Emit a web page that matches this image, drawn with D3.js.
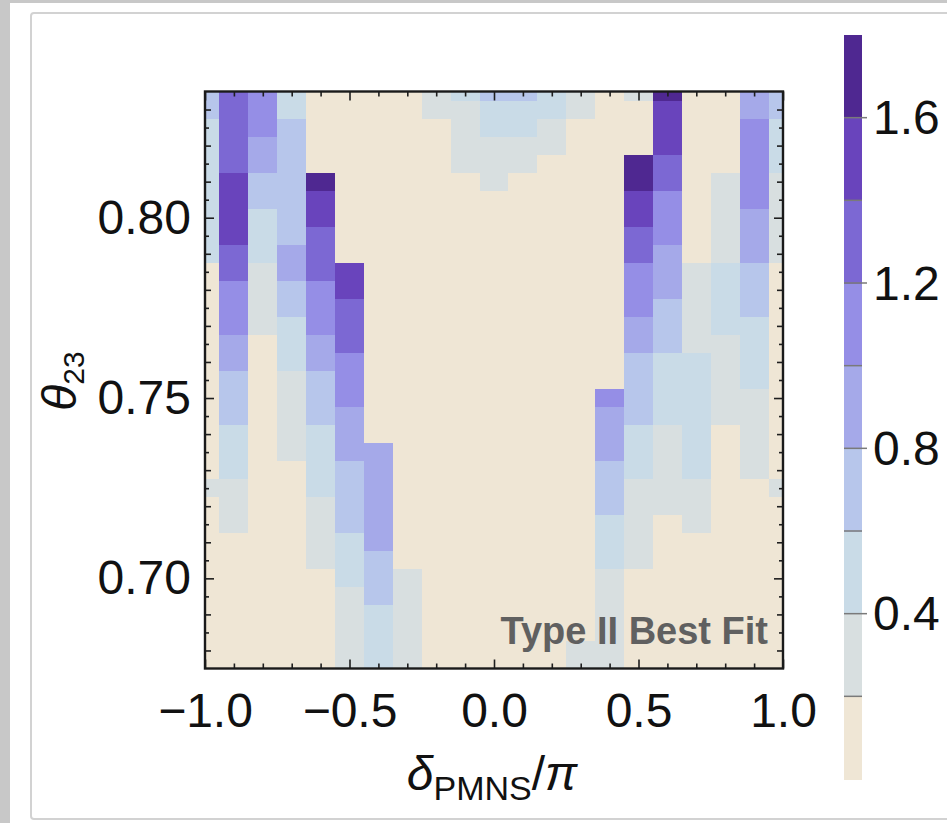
<!DOCTYPE html>
<html>
<head>
<meta charset="utf-8">
<script src="https://cdn.jsdelivr.net/npm/d3@7"></script>
<style>
  html, body { margin: 0; padding: 0; background: #ffffff; }
  svg { display: block; }
  text { font-family: "Liberation Sans", Arial, Helvetica, sans-serif; }
</style>
</head>
<body>
<svg id="chart" width="947" height="823"></svg>
<script>
// Grid centres of the scan: delta_PMNS / pi (columns) and theta_23 (rows, top to bottom)
const deltaCenters = [-1.0, -0.9, -0.8, -0.7, -0.6, -0.5, -0.4, -0.3, -0.2, -0.1, 0.0,
                      0.1, 0.2, 0.3, 0.4, 0.5, 0.6, 0.7, 0.8, 0.9, 1.0];
const thetaCenters = [0.835, 0.830, 0.825, 0.820, 0.815, 0.810, 0.805, 0.800, 0.795, 0.790,
                      0.785, 0.780, 0.775, 0.770, 0.765, 0.760, 0.755, 0.750, 0.745, 0.740,
                      0.735, 0.730, 0.725, 0.720, 0.715, 0.710, 0.705, 0.700, 0.695, 0.690,
                      0.685, 0.680, 0.675];

// Fit measure per cell; one row per theta_23 value, one entry per delta value
const fitValues = [
  [0.7,1.3,1.1,0.5,0.1,0.1,0.1,0.1,0.3,0.5,0.7,0.7,0.5,0.3,0.1,0.3,1.7,0.1,0.1,0.9,0.7],
  [0.7,1.3,1.1,0.5,0.1,0.1,0.1,0.1,0.3,0.3,0.5,0.5,0.5,0.3,0.1,0.1,1.5,0.1,0.1,0.9,0.7],
  [0.5,1.3,1.1,0.7,0.1,0.1,0.1,0.1,0.1,0.3,0.5,0.5,0.3,0.1,0.1,0.1,1.5,0.1,0.1,1.1,0.5],
  [0.5,1.3,0.9,0.7,0.1,0.1,0.1,0.1,0.1,0.3,0.3,0.3,0.3,0.1,0.1,0.1,1.5,0.1,0.1,1.1,0.5],
  [0.5,1.3,0.9,0.7,0.1,0.1,0.1,0.1,0.1,0.3,0.3,0.3,0.1,0.1,0.1,1.7,1.3,0.1,0.1,1.1,0.5],
  [0.5,1.5,0.7,0.7,1.7,0.1,0.1,0.1,0.1,0.1,0.3,0.1,0.1,0.1,0.1,1.7,1.3,0.1,0.3,1.1,0.3],
  [0.5,1.5,0.7,0.7,1.5,0.1,0.1,0.1,0.1,0.1,0.1,0.1,0.1,0.1,0.1,1.5,1.1,0.1,0.3,1.1,0.3],
  [0.5,1.5,0.5,0.7,1.5,0.1,0.1,0.1,0.1,0.1,0.1,0.1,0.1,0.1,0.1,1.5,1.1,0.1,0.3,0.9,0.3],
  [0.5,1.5,0.5,0.7,1.3,0.1,0.1,0.1,0.1,0.1,0.1,0.1,0.1,0.1,0.1,1.3,1.1,0.1,0.3,0.9,0.3],
  [0.5,1.3,0.5,0.9,1.3,0.1,0.1,0.1,0.1,0.1,0.1,0.1,0.1,0.1,0.1,1.3,0.9,0.1,0.3,0.9,0.3],
  [0.1,1.3,0.3,0.9,1.3,1.5,0.1,0.1,0.1,0.1,0.1,0.1,0.1,0.1,0.1,1.1,0.9,0.3,0.5,0.7,0.1],
  [0.1,1.1,0.3,0.7,1.1,1.5,0.1,0.1,0.1,0.1,0.1,0.1,0.1,0.1,0.1,1.1,0.9,0.3,0.5,0.7,0.1],
  [0.1,1.1,0.3,0.7,1.1,1.3,0.1,0.1,0.1,0.1,0.1,0.1,0.1,0.1,0.1,1.1,0.7,0.3,0.5,0.7,0.1],
  [0.1,1.1,0.3,0.5,1.1,1.3,0.1,0.1,0.1,0.1,0.1,0.1,0.1,0.1,0.1,0.9,0.7,0.3,0.5,0.5,0.1],
  [0.1,0.9,0.1,0.5,0.9,1.3,0.1,0.1,0.1,0.1,0.1,0.1,0.1,0.1,0.1,0.9,0.7,0.3,0.3,0.5,0.1],
  [0.1,0.9,0.1,0.5,0.9,1.1,0.1,0.1,0.1,0.1,0.1,0.1,0.1,0.1,0.1,0.7,0.5,0.5,0.3,0.5,0.1],
  [0.1,0.7,0.1,0.3,0.7,1.1,0.1,0.1,0.1,0.1,0.1,0.1,0.1,0.1,0.1,0.7,0.5,0.5,0.3,0.5,0.1],
  [0.1,0.7,0.1,0.3,0.7,1.1,0.1,0.1,0.1,0.1,0.1,0.1,0.1,0.1,1.1,0.7,0.5,0.5,0.3,0.3,0.1],
  [0.1,0.7,0.1,0.3,0.7,0.9,0.1,0.1,0.1,0.1,0.1,0.1,0.1,0.1,0.9,0.7,0.5,0.5,0.3,0.3,0.1],
  [0.1,0.5,0.1,0.3,0.5,0.9,0.1,0.1,0.1,0.1,0.1,0.1,0.1,0.1,0.9,0.5,0.3,0.5,0.1,0.3,0.1],
  [0.1,0.5,0.1,0.3,0.5,0.9,0.9,0.1,0.1,0.1,0.1,0.1,0.1,0.1,0.9,0.5,0.3,0.5,0.1,0.3,0.1],
  [0.1,0.5,0.1,0.1,0.5,0.7,0.9,0.1,0.1,0.1,0.1,0.1,0.1,0.1,0.7,0.5,0.3,0.5,0.1,0.3,0.1],
  [0.3,0.3,0.1,0.1,0.5,0.7,0.9,0.1,0.1,0.1,0.1,0.1,0.1,0.1,0.7,0.3,0.3,0.3,0.1,0.1,0.3],
  [0.1,0.3,0.1,0.1,0.3,0.7,0.9,0.1,0.1,0.1,0.1,0.1,0.1,0.1,0.7,0.3,0.3,0.3,0.1,0.1,0.1],
  [0.1,0.3,0.1,0.1,0.3,0.7,0.9,0.1,0.1,0.1,0.1,0.1,0.1,0.1,0.5,0.3,0.1,0.3,0.1,0.1,0.1],
  [0.1,0.1,0.1,0.1,0.3,0.5,0.9,0.1,0.1,0.1,0.1,0.1,0.1,0.1,0.5,0.3,0.1,0.1,0.1,0.1,0.1],
  [0.1,0.1,0.1,0.1,0.3,0.5,0.7,0.1,0.1,0.1,0.1,0.1,0.1,0.1,0.5,0.3,0.1,0.1,0.1,0.1,0.1],
  [0.1,0.1,0.1,0.1,0.1,0.5,0.7,0.3,0.1,0.1,0.1,0.1,0.1,0.1,0.3,0.1,0.1,0.1,0.1,0.1,0.1],
  [0.1,0.1,0.1,0.1,0.1,0.3,0.7,0.3,0.1,0.1,0.1,0.1,0.1,0.1,0.3,0.1,0.1,0.1,0.1,0.1,0.1],
  [0.1,0.1,0.1,0.1,0.1,0.3,0.5,0.3,0.1,0.1,0.1,0.1,0.1,0.1,0.3,0.1,0.1,0.1,0.1,0.1,0.1],
  [0.1,0.1,0.1,0.1,0.1,0.3,0.5,0.3,0.1,0.1,0.1,0.1,0.1,0.1,0.3,0.1,0.1,0.1,0.1,0.1,0.1],
  [0.1,0.1,0.1,0.1,0.1,0.3,0.5,0.3,0.1,0.1,0.1,0.1,0.1,0.3,0.3,0.1,0.1,0.1,0.1,0.1,0.1],
  [0.1,0.1,0.1,0.1,0.1,0.3,0.5,0.3,0.1,0.1,0.1,0.1,0.1,0.3,0.3,0.1,0.1,0.1,0.1,0.1,0.1]
];

// Colour levels (band edges) and their colours
const levelBreaks = [0.2, 0.4, 0.6, 0.8, 1.0, 1.2, 1.4, 1.6];
const levelColors = ["#efe6d5", "#d8dfe0", "#c9dbe7", "#b7c6eb", "#a5a9e9",
                     "#958ee6", "#7c68d3", "#6944bc", "#4f2891"];
const barDomain = [0, 1.8];

// Axis ticks
const deltaMajorTicks = [-1.0, -0.5, 0.0, 0.5, 1.0];
const deltaMinorTicks = [-0.9, -0.8, -0.7, -0.6, -0.4, -0.3, -0.2, -0.1,
                         0.1, 0.2, 0.3, 0.4, 0.6, 0.7, 0.8, 0.9];
const thetaMajorTicks = [0.70, 0.75, 0.80];
const thetaMidTicks = [0.68, 0.69, 0.71, 0.72, 0.73, 0.74, 0.76, 0.77, 0.78, 0.79, 0.81, 0.82, 0.83];
const thetaSmallTicks = [0.685, 0.695, 0.705, 0.715, 0.725, 0.735, 0.745, 0.755, 0.765,
                         0.775, 0.785, 0.795, 0.805, 0.815, 0.825];
const barLabelTicks = [0.4, 0.8, 1.2, 1.6];
const barLineTicks = [0.2, 0.4, 0.6, 0.8, 1.0, 1.2, 1.4, 1.6];

const svg = d3.select("#chart");
const W = 947, H = 823;

// Page backdrop and panel frame
svg.append("rect").attr("x", 0).attr("y", 0).attr("width", W).attr("height", H).attr("fill", "#c8c8c8");
svg.append("rect").attr("x", 10).attr("y", 3).attr("width", W - 10).attr("height", H - 3).attr("fill", "#ffffff");
svg.append("rect").attr("x", 31).attr("y", 13).attr("width", W + 20).attr("height", 806)
  .attr("fill", "none").attr("stroke", "#d2d2d2").attr("stroke-width", 2).attr("rx", 3);

const plot = { left: 205, right: 783, top: 91.5, bottom: 668.5 };

const x = d3.scaleLinear().domain([-1, 1]).range([plot.left, plot.right]);
const y = d3.scaleLinear().domain([0.675, 0.835]).range([plot.bottom, plot.top]);
const color = d3.scaleThreshold().domain(levelBreaks).range(levelColors);

const halfDx = 0.05, halfDy = 0.0025;

const cells = [];
thetaCenters.forEach((t, j) => {
  deltaCenters.forEach((d, i) => {
    cells.push({ d, t, v: fitValues[j][i] });
  });
});

svg.append("g")
  .attr("shape-rendering", "crispEdges")
  .selectAll("rect")
  .data(cells)
  .join("rect")
  .attr("x", c => x(Math.max(-1, c.d - halfDx)))
  .attr("width", c => x(Math.min(1, c.d + halfDx)) - x(Math.max(-1, c.d - halfDx)) + 0.5)
  .attr("y", c => y(Math.min(0.835, c.t + halfDy)))
  .attr("height", c => y(Math.max(0.675, c.t - halfDy)) - y(Math.min(0.835, c.t + halfDy)) + 0.5)
  .attr("fill", c => color(c.v));

// Frame ticks (pointing inward)
const tickColor = "#1e1e1e";
const fontSize = 48;
function styleAxis(g) {
  g.select(".domain").remove();
  g.selectAll(".tick line").attr("stroke", tickColor).attr("stroke-width", 1.6);
  g.selectAll(".tick text").attr("fill", "#111").attr("font-size", fontSize)
    .attr("font-family", "'Liberation Sans', Arial, sans-serif");
}
const fmt1 = d3.format(".1f");
const fmt2 = d3.format(".2f");

// bottom
svg.append("g").attr("transform", `translate(0,${plot.bottom})`)
  .call(d3.axisBottom(x).tickValues(deltaMajorTicks).tickSize(-9).tickPadding(24).tickFormat(fmt1))
  .call(styleAxis);
svg.append("g").attr("transform", `translate(0,${plot.bottom})`)
  .call(d3.axisBottom(x).tickValues(deltaMinorTicks).tickSize(-5).tickFormat(""))
  .call(styleAxis);
// top
svg.append("g").attr("transform", `translate(0,${plot.top})`)
  .call(d3.axisTop(x).tickValues(deltaMajorTicks).tickSize(-9).tickFormat(""))
  .call(styleAxis);
svg.append("g").attr("transform", `translate(0,${plot.top})`)
  .call(d3.axisTop(x).tickValues(deltaMinorTicks).tickSize(-5).tickFormat(""))
  .call(styleAxis);
// left
svg.append("g").attr("transform", `translate(${plot.left},0)`)
  .call(d3.axisLeft(y).tickValues(thetaMajorTicks).tickSize(-9).tickPadding(14).tickFormat(fmt2))
  .call(styleAxis);
svg.append("g").attr("transform", `translate(${plot.left},0)`)
  .call(d3.axisLeft(y).tickValues(thetaMidTicks).tickSize(-6).tickFormat(""))
  .call(styleAxis);
svg.append("g").attr("transform", `translate(${plot.left},0)`)
  .call(d3.axisLeft(y).tickValues(thetaSmallTicks).tickSize(-4).tickFormat(""))
  .call(styleAxis);
// right
svg.append("g").attr("transform", `translate(${plot.right},0)`)
  .call(d3.axisRight(y).tickValues(thetaMajorTicks).tickSize(-9).tickFormat(""))
  .call(styleAxis);
svg.append("g").attr("transform", `translate(${plot.right},0)`)
  .call(d3.axisRight(y).tickValues(thetaMidTicks).tickSize(-6).tickFormat(""))
  .call(styleAxis);
svg.append("g").attr("transform", `translate(${plot.right},0)`)
  .call(d3.axisRight(y).tickValues(thetaSmallTicks).tickSize(-4).tickFormat(""))
  .call(styleAxis);

// plot frame
svg.append("rect")
  .attr("x", plot.left).attr("y", plot.top)
  .attr("width", plot.right - plot.left).attr("height", plot.bottom - plot.top)
  .attr("fill", "none").attr("stroke", "#1a1a1a").attr("stroke-width", 2.4);

// in-plot label
svg.append("text")
  .attr("x", 768).attr("y", 644)
  .attr("text-anchor", "end")
  .attr("font-size", 38).attr("font-weight", "bold")
  .attr("fill", "#606060")
  .text("Type II Best Fit");

// axis titles
const yTitle = svg.append("text")
  .attr("transform", "translate(76,381) rotate(-90)")
  .attr("text-anchor", "middle")
  .attr("font-size", fontSize).attr("fill", "#111");
yTitle.append("tspan").attr("font-style", "italic").text("θ");
yTitle.append("tspan").attr("font-size", 30).attr("dy", 8).text("23");

const xTitle = svg.append("text")
  .attr("x", 492).attr("y", 790)
  .attr("text-anchor", "middle")
  .attr("font-size", fontSize).attr("fill", "#111");
xTitle.append("tspan").attr("font-style", "italic").text("δ");
xTitle.append("tspan").attr("font-size", 34).attr("dy", 10).text("PMNS");
xTitle.append("tspan").attr("dy", -10).text("/");
xTitle.append("tspan").attr("font-style", "italic").text("π");

// colour bar
const bar = { left: 844, width: 18, top: 35, bottom: 779 };
const yc = d3.scaleLinear().domain(barDomain).range([bar.bottom, bar.top]);
const bandEdges = [barDomain[0], ...levelBreaks, barDomain[1]];
svg.append("g").attr("shape-rendering", "crispEdges")
  .selectAll("rect")
  .data(levelColors)
  .join("rect")
  .attr("x", bar.left).attr("width", bar.width)
  .attr("y", (c, k) => yc(bandEdges[k + 1]))
  .attr("height", (c, k) => yc(bandEdges[k]) - yc(bandEdges[k + 1]) + 0.5)
  .attr("fill", c => c);

svg.append("g").selectAll("line")
  .data(barLineTicks)
  .join("line")
  .attr("x1", bar.left).attr("x2", d => barLabelTicks.includes(d) ? bar.left + bar.width + 5 : bar.left + bar.width)
  .attr("y1", d => yc(d)).attr("y2", d => yc(d))
  .attr("stroke", "#7a7a7a").attr("stroke-width", 1.5);

svg.append("g").selectAll("text")
  .data(barLabelTicks)
  .join("text")
  .attr("x", bar.left + bar.width + 11)
  .attr("y", d => yc(d))
  .attr("dy", "0.35em")
  .attr("font-size", fontSize).attr("fill", "#111")
  .text(d => fmt1(d));
</script>
</body>
</html>
